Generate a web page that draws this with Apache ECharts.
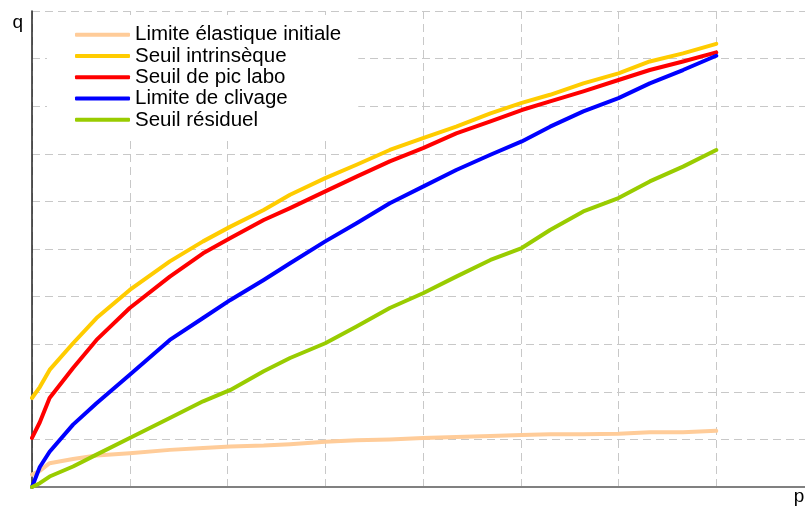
<!DOCTYPE html>
<html>
<head>
<meta charset="utf-8">
<script src="https://cdn.jsdelivr.net/npm/echarts@6/dist/echarts.min.js"></script>
<style>
html,body{margin:0;padding:0;background:#fff;}
#chart{width:805px;height:506px;}
</style>
</head>
<body>
<div id="chart"></div>
<script>
// p values (x) at which the curves were read
const pValues = [0, 0.08, 0.18, 0.42, 0.66, 1.0, 1.41, 1.75, 2.03, 2.37, 2.64, 3.0, 3.32, 3.66, 4.0, 4.34, 4.69, 5.01, 5.3, 5.64, 6.0, 6.32, 6.66, 7.0];

const seriesNames = ['Limite élastique initiale', 'Seuil intrinsèque', 'Seuil de pic labo', 'Limite de clivage', 'Seuil résiduel'];
const seriesColors = ['#FFCC99', '#FFCC00', '#FF0000', '#0000FF', '#99CC00'];

const limiteElastique = [0.26, 0.34, 0.50, 0.59, 0.66, 0.71, 0.78, 0.82, 0.85, 0.87, 0.90, 0.95, 0.98, 1.00, 1.03, 1.05, 1.07, 1.09, 1.11, 1.11, 1.12, 1.15, 1.15, 1.18];
const seuilIntrinseque = [1.87, 2.10, 2.46, 3.02, 3.55, 4.14, 4.74, 5.16, 5.47, 5.82, 6.14, 6.49, 6.77, 7.08, 7.33, 7.57, 7.85, 8.07, 8.24, 8.48, 8.69, 8.94, 9.11, 9.31];
const seuilPic = [1.03, 1.36, 1.87, 2.50, 3.09, 3.76, 4.42, 4.91, 5.23, 5.61, 5.86, 6.21, 6.52, 6.84, 7.12, 7.43, 7.68, 7.92, 8.10, 8.31, 8.55, 8.76, 8.94, 9.13];
const limiteClivage = [0, 0.42, 0.74, 1.31, 1.76, 2.36, 3.09, 3.55, 3.93, 4.35, 4.70, 5.16, 5.54, 5.96, 6.31, 6.66, 6.98, 7.26, 7.57, 7.89, 8.17, 8.48, 8.76, 9.06];
const seuilResiduel = [0, 0.08, 0.22, 0.43, 0.68, 1.03, 1.45, 1.80, 2.04, 2.43, 2.71, 3.02, 3.37, 3.76, 4.07, 4.42, 4.77, 5.02, 5.40, 5.79, 6.07, 6.42, 6.73, 7.08];

const allValues = [limiteElastique, seuilIntrinseque, seuilPic, limiteClivage, seuilResiduel];

const FONT = "'Liberation Sans', Arial, sans-serif";
const gridLine = { show: true, lineStyle: { color: '#c8c8c8', width: 1, type: [8, 5] } };

const chart = echarts.init(document.getElementById('chart'), null, { renderer: 'canvas' });
chart.setOption({
  animation: false,
  backgroundColor: '#ffffff',
  textStyle: { fontFamily: FONT },
  grid: { left: 32, top: 11, right: -9, bottom: 19, containLabel: false, outerBoundsMode: 'none' },
  legend: {
    orient: 'vertical',
    left: 47,
    top: 15,
    padding: [9, 17, 6, 28],
    backgroundColor: '#ffffff',
    itemGap: 0,
    itemWidth: 55,
    itemHeight: 4,
    icon: 'roundRect',
    selectedMode: false,
    data: seriesNames,
    textStyle: { fontFamily: FONT, fontSize: 20.5, lineHeight: 21.3, color: '#000' }
  },
  xAxis: {
    type: 'value',
    min: 0,
    max: 8,
    interval: 1,
    name: 'p',
    nameLocation: 'end',
    nameGap: -15,
    nameTextStyle: { fontFamily: FONT, fontSize: 19, color: '#000', align: 'center', verticalAlign: 'top' },
    axisLine: { show: true, onZero: false, lineStyle: { color: '#808080', width: 2 } },
    axisTick: { show: false },
    axisLabel: { show: false },
    splitLine: gridLine
  },
  yAxis: {
    type: 'value',
    min: 0,
    max: 10,
    interval: 1,
    name: 'q',
    nameLocation: 'end',
    nameGap: -12,
    nameTextStyle: { fontFamily: FONT, fontSize: 19, color: '#000', align: 'right', verticalAlign: 'middle', padding: [0, 9, 0, 0] },
    axisLine: { show: true, onZero: false, lineStyle: { color: '#222', width: 1.5 } },
    axisTick: { show: false },
    axisLabel: { show: false },
    splitLine: gridLine
  },
  series: seriesNames.map((name, i) => ({
    name: name,
    type: 'line',
    data: pValues.map((p, j) => [p, allValues[i][j]]),
    symbol: 'none',
    smooth: false,
    color: seriesColors[i],
    lineStyle: { color: seriesColors[i], width: 4, cap: 'round', join: 'round' }
  }))
});
</script>
</body>
</html>
